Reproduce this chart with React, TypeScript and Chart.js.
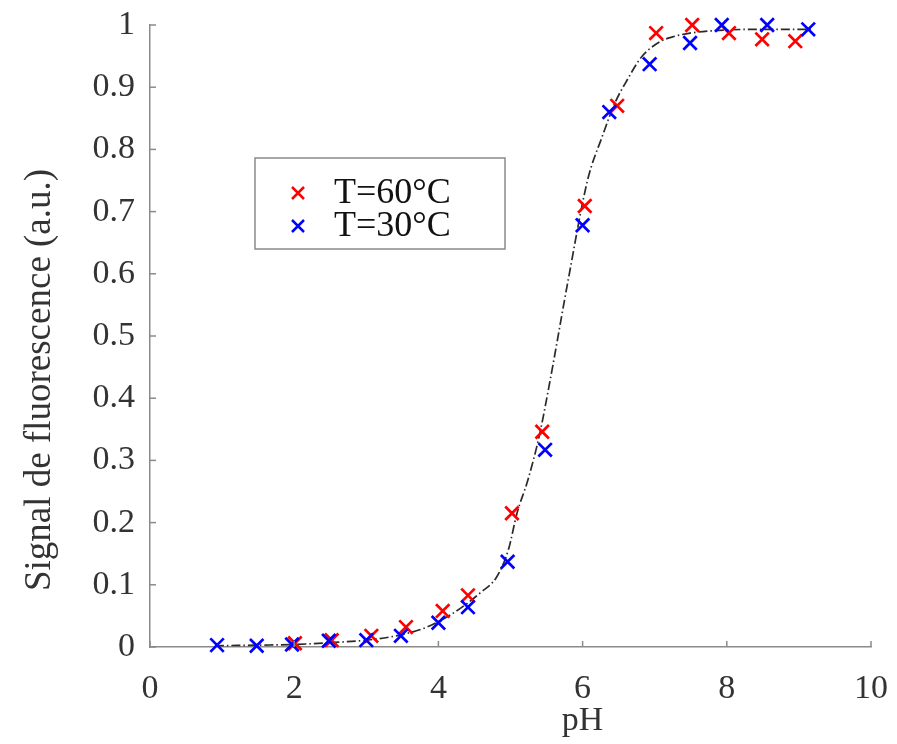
import React, { useEffect, useRef } from "react";
import { Chart, registerables } from "chart.js";

Chart.register(...registerables);

// ---- data ----
const legendLabels = ["T=60°C", "T=30°C"];
const phRed = [2.01, 2.52, 3.07, 3.55, 4.06, 4.41, 5.02, 5.44, 6.03, 6.48, 7.02, 7.52, 8.03, 8.49, 8.95];
const signalRed = [0.006, 0.011, 0.018, 0.032, 0.058, 0.083, 0.215, 0.346, 0.709, 0.87, 0.987, 1.0, 0.987, 0.977, 0.974];
const phBlue = [0.93, 1.48, 1.97, 2.48, 3.0, 3.48, 4.0, 4.41, 4.96, 5.48, 6.0, 6.37, 6.93, 7.49, 7.93, 8.56, 9.13];
const signalBlue = [0.003, 0.002, 0.004, 0.01, 0.011, 0.018, 0.039, 0.064, 0.137, 0.317, 0.678, 0.86, 0.937, 0.971, 1.0, 1.0, 0.993];
const phFit = [0.9, 1.5, 2.0, 2.5, 3.0, 3.5, 3.84, 4.2, 4.58, 4.81, 4.97, 5.09, 5.24, 5.4, 5.55, 5.8, 6.07, 6.27, 6.45, 6.61, 6.82, 7.07, 7.25, 7.49, 8.0, 8.5, 9.2];
const signalFit = [0.002, 0.003, 0.004, 0.007, 0.011, 0.02, 0.032, 0.054, 0.087, 0.113, 0.156, 0.215, 0.268, 0.34, 0.429, 0.59, 0.751, 0.82, 0.875, 0.91, 0.949, 0.973, 0.981, 0.987, 0.992, 0.993, 0.993];
const xTitle = "pH";
const yTitle = "Signal de fluorescence (a.u.)";

const RED = "#ff0000";
const BLUE = "#0000ff";
const AXIS = "#8a8a8a";
const TEXT = "#333333";
const FONT = '"Liberation Serif", "DejaVu Serif", serif';

const toXY = (xs: number[], ys: number[]) => xs.map((x, i) => ({ x, y: ys[i] }));

function drawCross(ctx: CanvasRenderingContext2D, x: number, y: number, h: number, color: string) {
  ctx.save();
  ctx.strokeStyle = color;
  ctx.lineWidth = 2.5;
  ctx.beginPath();
  ctx.moveTo(x - h, y - h);
  ctx.lineTo(x + h, y + h);
  ctx.moveTo(x - h, y + h);
  ctx.lineTo(x + h, y - h);
  ctx.stroke();
  ctx.restore();
}

const overlay = {
  id: "overlay",
  afterDraw(chart: any) {
    const { ctx, chartArea: a, scales } = chart;
    const xs = scales.x;
    const ys = scales.y;
    ctx.save();
    // inward ticks
    ctx.strokeStyle = AXIS;
    ctx.lineWidth = 1.5;
    xs.ticks.forEach((t: any) => {
      const px = xs.getPixelForValue(t.value);
      ctx.beginPath();
      ctx.moveTo(px, a.bottom);
      ctx.lineTo(px, a.bottom - 6);
      ctx.stroke();
    });
    ys.ticks.forEach((t: any) => {
      const py = ys.getPixelForValue(t.value);
      ctx.beginPath();
      ctx.moveTo(a.left, py);
      ctx.lineTo(a.left + 6, py);
      ctx.stroke();
    });
    // axis titles
    ctx.fillStyle = TEXT;
    ctx.textAlign = "center";
    ctx.textBaseline = "middle";
    ctx.font = `34px ${FONT}`;
    ctx.fillText(xTitle, a.left + a.width * 0.6, 721);
    ctx.save();
    ctx.translate(40, 380);
    ctx.rotate(-Math.PI / 2);
    ctx.font = `37px ${FONT}`;
    ctx.fillText(yTitle, 0, 0);
    ctx.restore();
    // legend
    const bx = 255, by = 158, bw = 250, bh = 91;
    ctx.fillStyle = "#ffffff";
    ctx.fillRect(bx, by, bw, bh);
    ctx.strokeStyle = AXIS;
    ctx.lineWidth = 1.5;
    ctx.strokeRect(bx, by, bw, bh);
    const colors = [RED, BLUE];
    const rowsY = [193, 226];
    legendLabels.forEach((lab, i) => {
      drawCross(ctx, 298, rowsY[i], 6, colors[i]);
      ctx.fillStyle = "#111111";
      ctx.textAlign = "left";
      ctx.textBaseline = "middle";
      ctx.font = `36px ${FONT}`;
      ctx.fillText(lab, 334, rowsY[i] + 1);
    });
    ctx.restore();
  },
};

const zeroPad = (scale: any) => {
  scale.paddingTop = 0;
  scale.paddingBottom = 0;
  scale.paddingLeft = 0;
  scale.paddingRight = 0;
};

export default function App() {
  const ref = useRef<HTMLCanvasElement | null>(null);
  useEffect(() => {
    if (!ref.current) return;
    const chart = new Chart(ref.current, {
      type: "scatter",
      data: {
        datasets: [
          {
            label: legendLabels[1],
            data: toXY(phBlue, signalBlue),
            pointStyle: "crossRot",
            pointRadius: 9.5,
            pointBorderWidth: 2.7,
            borderColor: BLUE,
            backgroundColor: BLUE,
            showLine: false,
            clip: false,
            order: 0,
          } as any,
          {
            label: legendLabels[0],
            data: toXY(phRed, signalRed),
            pointStyle: "crossRot",
            pointRadius: 9.5,
            pointBorderWidth: 2.7,
            borderColor: RED,
            backgroundColor: RED,
            showLine: false,
            clip: false,
            order: 1,
          } as any,
          {
            label: "fit",
            data: toXY(phFit, signalFit),
            showLine: true,
            pointRadius: 0,
            borderColor: "#2a2a2a",
            borderWidth: 1.7,
            borderDash: [9, 3, 1.5, 3],
            cubicInterpolationMode: "monotone",
            clip: false,
            order: 2,
          } as any,
        ],
      },
      options: {
        animation: false,
        responsive: false,
        maintainAspectRatio: false,
        layout: { padding: { top: 25, right: 26, left: 0, bottom: 0 } },
        plugins: { legend: { display: false }, tooltip: { enabled: false } },
        scales: {
          x: {
            type: "linear",
            min: 0,
            max: 10,
            grid: { display: false, drawTicks: false },
            border: { display: true, color: AXIS, width: 1.5 },
            ticks: {
              stepSize: 2,
              padding: 22,
              color: TEXT,
              font: { family: FONT, size: 34 },
              maxRotation: 0,
            },
            afterFit(scale: any) {
              scale.height = 97;
              zeroPad(scale);
            },
          },
          y: {
            type: "linear",
            min: 0,
            max: 1,
            grid: { display: false, drawTicks: false },
            border: { display: true, color: AXIS, width: 1.5 },
            ticks: {
              stepSize: 0.1,
              padding: 15,
              color: TEXT,
              font: { family: FONT, size: 34 },
              callback: (v: any) => String(Math.round(Number(v) * 10) / 10),
            },
            afterFit(scale: any) {
              scale.width = 150;
              zeroPad(scale);
            },
          },
        },
      },
      plugins: [overlay],
    });
    return () => chart.destroy();
  }, []);
  return (
    <div style={{ position: "fixed", left: 0, top: 0, width: 897, height: 744, background: "#fff" }}>
      <canvas ref={ref} width={897} height={744} style={{ width: 897, height: 744 }} />
    </div>
  );
}
